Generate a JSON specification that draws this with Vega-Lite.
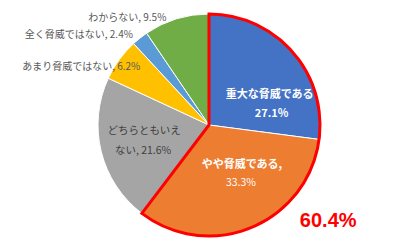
{
  "$schema": "https://vega.github.io/schema/vega-lite/v6.json",
  "width": 400,
  "height": 250,
  "autosize": {"type": "fit", "contains": "padding"},
  "padding": {"left": 18, "right": 0, "top": 0, "bottom": 0},
  "background": "white",
  "config": {"view": {"stroke": null}, "text": {"font": "Noto Sans CJK JP"}},
  "datasets": {
    "pie": [
      {"cat": "重大な脅威である", "v": 27.1, "o": 1, "l1": "重大な脅威である", "l2": "27.1%"},
      {"cat": "やや脅威である", "v": 33.3, "o": 2, "l1": "やや脅威である,", "l2": "33.3%"},
      {"cat": "どちらともいえない", "v": 21.6, "o": 3, "l1": "どちらともいえ", "l2": "ない, 21.6%"},
      {"cat": "あまり脅威ではない", "v": 6.2, "o": 4, "l1": "あまり脅威ではない, 6.2%", "l2": ""},
      {"cat": "全く脅威ではない", "v": 2.4, "o": 5, "l1": "全く脅威ではない, 2.4%", "l2": ""},
      {"cat": "わからない", "v": 9.5, "o": 6, "l1": "わからない, 9.5%", "l2": ""}
    ],
    "outline": [
      {"g": "a", "v": 60.4, "o": 1, "lab": "60.4%"},
      {"g": "b", "v": 39.7, "o": 2, "lab": ""}
    ]
  },
  "layer": [
    {
      "data": {"name": "pie"},
      "mark": {"type": "arc", "outerRadius": 111, "stroke": "white", "strokeWidth": 1},
      "encoding": {
        "theta": {"field": "v", "type": "quantitative", "stack": true},
        "order": {"field": "o", "type": "quantitative"},
        "color": {
          "field": "cat", "type": "nominal", "legend": null,
          "scale": {
            "domain": ["重大な脅威である", "やや脅威である", "どちらともいえない", "あまり脅威ではない", "全く脅威ではない", "わからない"],
            "range": ["#4472C4", "#ED7D31", "#A5A5A5", "#FFC000", "#5B9BD5", "#70AD47"]
          }
        }
      }
    },
    {
      "data": {"name": "outline"},
      "mark": {"type": "arc", "outerRadius": 111, "stroke": "#FF0000", "strokeWidth": 3, "fillOpacity": 0, "fill": "white", "strokeJoin": "miter"},
      "encoding": {
        "theta": {"field": "v", "type": "quantitative", "stack": true},
        "order": {"field": "o", "type": "quantitative"},
        "strokeOpacity": {"condition": {"test": "datum.g === 'b'", "value": 0}, "value": 1}
      }
    },
    {
      "data": {"name": "outline"},
      "mark": {"type": "text", "radius": 111, "dx": 14, "dy": 61, "fontSize": 20, "fontWeight": "bold", "color": "#FF0000", "font": "Liberation Sans"},
      "encoding": {
        "theta": {"field": "v", "type": "quantitative", "stack": true},
        "order": {"field": "o", "type": "quantitative"},
        "text": {"field": "lab"}
      }
    },
    {
      "data": {"name": "pie"},
      "mark": {"type": "text", "radius": 70, "dx": 8, "dy": 16, "fontSize": 11, "fontWeight": "bold", "color": "white"},
      "encoding": {
        "theta": {"field": "v", "type": "quantitative", "stack": true},
        "order": {"field": "o", "type": "quantitative"},
        "text": {"condition": {"test": "datum.o === 1", "field": "l1"}, "value": ""}
      }
    },
    {
      "data": {"name": "pie"},
      "mark": {"type": "text", "radius": 70, "dx": 10, "dy": 35, "fontSize": 11, "fontWeight": "bold", "color": "white"},
      "encoding": {
        "theta": {"field": "v", "type": "quantitative", "stack": true},
        "order": {"field": "o", "type": "quantitative"},
        "text": {"condition": {"test": "datum.o === 1", "field": "l2"}, "value": ""}
      }
    },
    {
      "data": {"name": "pie"},
      "mark": {"type": "text", "radius": 70, "dx": 6, "dy": -25, "fontSize": 11, "fontWeight": "bold", "color": "white"},
      "encoding": {
        "theta": {"field": "v", "type": "quantitative", "stack": true},
        "order": {"field": "o", "type": "quantitative"},
        "text": {"condition": {"test": "datum.o === 2", "field": "l1"}, "value": ""}
      }
    },
    {
      "data": {"name": "pie"},
      "mark": {"type": "text", "radius": 70, "dx": 5, "dy": -7, "fontSize": 10.5, "color": "white"},
      "encoding": {
        "theta": {"field": "v", "type": "quantitative", "stack": true},
        "order": {"field": "o", "type": "quantitative"},
        "text": {"condition": {"test": "datum.o === 2", "field": "l2"}, "value": ""}
      }
    },
    {
      "data": {"name": "pie"},
      "mark": {"type": "text", "radius": 70, "dx": 3, "dy": -11, "fontSize": 10.5, "color": "#404040"},
      "encoding": {
        "theta": {"field": "v", "type": "quantitative", "stack": true},
        "order": {"field": "o", "type": "quantitative"},
        "text": {"condition": {"test": "datum.o === 3", "field": "l1"}, "value": ""}
      }
    },
    {
      "data": {"name": "pie"},
      "mark": {"type": "text", "radius": 70, "dx": 2, "dy": 9, "fontSize": 10.5, "color": "#404040"},
      "encoding": {
        "theta": {"field": "v", "type": "quantitative", "stack": true},
        "order": {"field": "o", "type": "quantitative"},
        "text": {"condition": {"test": "datum.o === 3", "field": "l2"}, "value": ""}
      }
    },
    {
      "data": {"name": "pie"},
      "mark": {"type": "text", "radius": 111, "dx": 21, "dy": 7, "fontSize": 10, "color": "#595959", "align": "right"},
      "encoding": {
        "theta": {"field": "v", "type": "quantitative", "stack": true},
        "order": {"field": "o", "type": "quantitative"},
        "text": {"condition": {"test": "datum.o === 4", "field": "l1"}, "value": ""}
      }
    },
    {
      "data": {"name": "pie"},
      "mark": {"type": "text", "radius": 111, "dx": -7, "dy": -3, "fontSize": 10, "color": "#595959", "align": "right"},
      "encoding": {
        "theta": {"field": "v", "type": "quantitative", "stack": true},
        "order": {"field": "o", "type": "quantitative"},
        "text": {"condition": {"test": "datum.o === 5", "field": "l1"}, "value": ""}
      }
    },
    {
      "data": {"name": "pie"},
      "mark": {"type": "text", "radius": 111, "dx": -10, "dy": -1, "fontSize": 10, "color": "#595959", "align": "right"},
      "encoding": {
        "theta": {"field": "v", "type": "quantitative", "stack": true},
        "order": {"field": "o", "type": "quantitative"},
        "text": {"condition": {"test": "datum.o === 6", "field": "l1"}, "value": ""}
      }
    }
  ]
}
